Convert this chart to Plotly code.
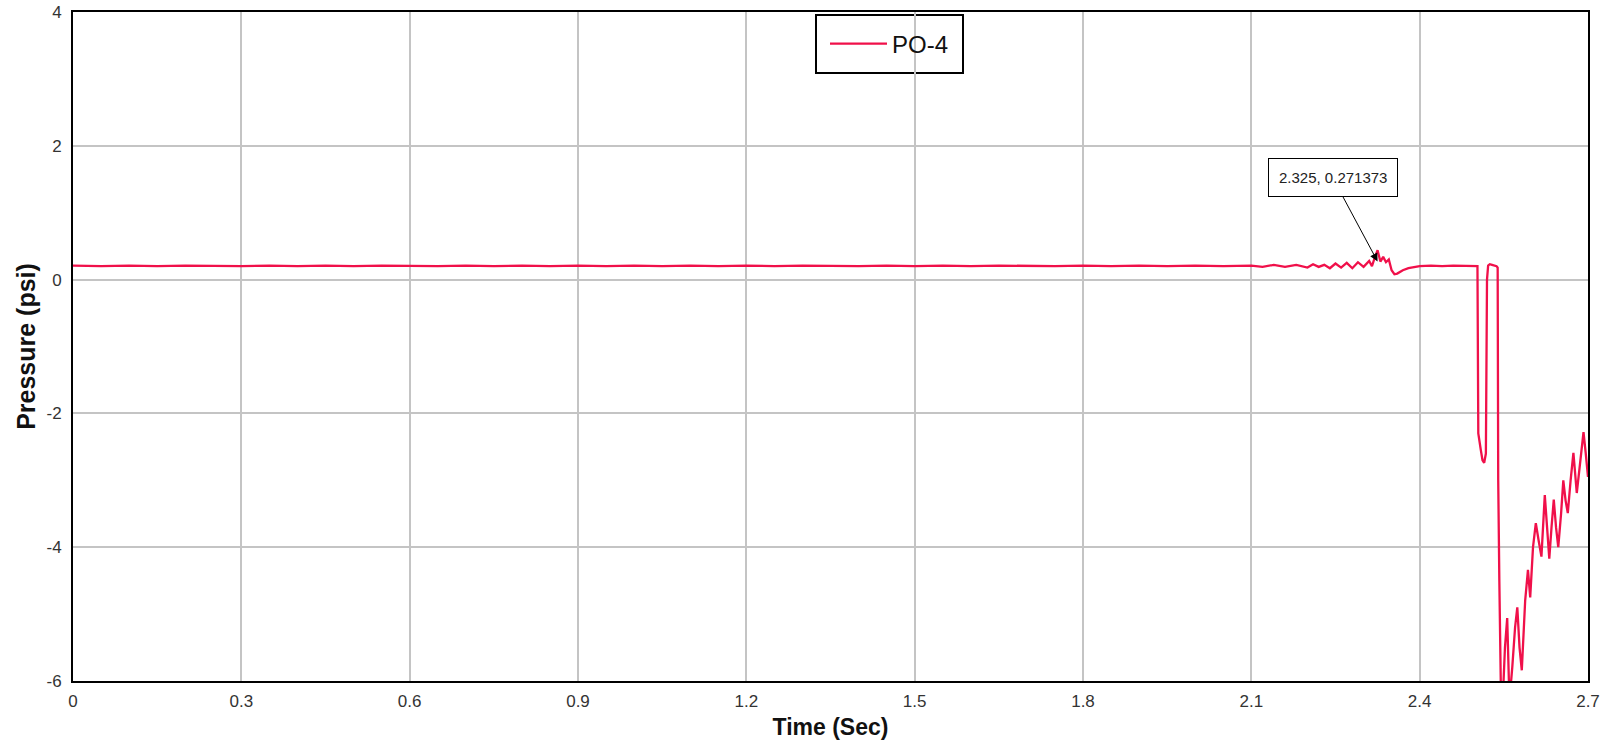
import plotly.graph_objects as go

# ---- data ----
time_base = [0.00, 0.05, 0.10, 0.15, 0.20, 0.25, 0.30, 0.35, 0.40, 0.45, 0.50,
             0.55, 0.60, 0.65, 0.70, 0.75, 0.80, 0.85, 0.90, 0.95, 1.00,
             1.05, 1.10, 1.15, 1.20, 1.25, 1.30, 1.35, 1.40, 1.45, 1.50,
             1.55, 1.60, 1.65, 1.70, 1.75, 1.80, 1.85, 1.90, 1.95, 2.00,
             2.05, 2.10]
pres_base = [0.21, 0.20, 0.21, 0.20, 0.21, 0.20, 0.20, 0.21, 0.20, 0.21, 0.20,
             0.21, 0.20, 0.20, 0.21, 0.20, 0.21, 0.20, 0.21, 0.20, 0.21,
             0.20, 0.21, 0.20, 0.21, 0.20, 0.21, 0.20, 0.20, 0.21, 0.20,
             0.21, 0.20, 0.21, 0.20, 0.20, 0.21, 0.20, 0.21, 0.20, 0.21,
             0.20, 0.21]

time_noise = [2.12, 2.14, 2.16, 2.18, 2.20, 2.21, 2.22, 2.23, 2.24, 2.25,
              2.26, 2.27, 2.28, 2.29, 2.30, 2.31, 2.315, 2.32, 2.325, 2.33,
              2.335, 2.34, 2.345, 2.35, 2.355, 2.36, 2.37, 2.38, 2.39, 2.40,
              2.42, 2.44, 2.46, 2.48, 2.50, 2.503]
pres_noise = [0.19, 0.22, 0.19, 0.22, 0.18, 0.23, 0.19, 0.22, 0.17, 0.24,
              0.18, 0.25, 0.17, 0.26, 0.19, 0.28, 0.20, 0.33, 0.44, 0.27,
              0.34, 0.26, 0.30, 0.14, 0.08, 0.09, 0.14, 0.17, 0.19, 0.20,
              0.21, 0.20, 0.21, 0.21, 0.20, 0.20]

time_drop = [2.5045, 2.506, 2.509, 2.512, 2.515, 2.518, 2.520, 2.522, 2.525,
             2.529, 2.533, 2.537, 2.539, 2.540, 2.542, 2.545, 2.548, 2.552,
             2.556, 2.560, 2.565, 2.570, 2.574, 2.578, 2.582, 2.588, 2.593,
             2.597, 2.602, 2.607, 2.612, 2.617, 2.623, 2.627, 2.631, 2.635,
             2.639, 2.643, 2.647, 2.652, 2.656, 2.660, 2.664, 2.669, 2.674,
             2.680, 2.686, 2.692, 2.696, 2.700]
pres_drop = [-2.30, -2.40, -2.55, -2.70, -2.74, -2.60, 0.00, 0.21, 0.23,
             0.22, 0.21, 0.20, 0.18, -3.00, -4.50, -6.30, -6.30, -5.50,
             -5.06, -6.30, -5.80, -5.20, -4.90, -5.50, -5.84, -4.80, -4.34,
             -4.75, -4.00, -3.64, -3.90, -4.14, -3.22, -3.70, -4.17, -3.70,
             -3.29, -3.70, -4.00, -3.50, -3.00, -3.30, -3.49, -3.00, -2.59,
             -3.19, -2.70, -2.28, -2.60, -2.95]

time = time_base + time_noise + time_drop
pressure = pres_base + pres_noise + pres_drop

x_ticks = [0, 0.3, 0.6, 0.9, 1.2, 1.5, 1.8, 2.1, 2.4, 2.7]
x_tick_labels = ["0", "0.3", "0.6", "0.9", "1.2", "1.5", "1.8", "2.1", "2.4", "2.7"]
y_ticks = [-6, -4, -2, 0, 2, 4]
y_tick_labels = ["-6", "-4", "-2", "0", "2", "4"]

marker_point = (2.325, 0.271373)

W, H = 1606, 747
# plot area in window pixels
PL, PR, PT, PB = 73, 1588, 12, 681
L, T, R, B = PL, PT, W - PR, H - PB
PW, PH = PR - PL, PB - PT


def px_x(p):
    return (p - PL) / PW


def px_y(p):
    return (PB - p) / PH


fig = go.Figure()
fig.add_trace(go.Scatter(
    x=time, y=pressure, mode="lines", name="PO-4",
    line=dict(color="#f0104a", width=2.3),
))

font_family = "Liberation Sans, Arial, sans-serif"

fig.update_layout(
    width=W, height=H,
    margin=dict(l=L, r=R, t=T, b=B, pad=0, autoexpand=False),
    paper_bgcolor="white", plot_bgcolor="white",
    font=dict(family=font_family, color="#333333", size=17),
    showlegend=True,
    legend=dict(
        x=px_x(825), y=px_y(44),
        xanchor="left", yanchor="middle",
        bgcolor="rgba(0,0,0,0)", borderwidth=0,
        itemwidth=57,
        font=dict(size=24, color="#111111", family=font_family),
    ),
    xaxis=dict(
        range=[0, 2.7], tickvals=x_ticks, ticktext=x_tick_labels,
        showgrid=True, gridcolor="#c4c4c4", gridwidth=1.5,
        zeroline=False, showline=True, linecolor="black", linewidth=2,
        mirror=True, ticks="", ticklabelstandoff=4, automargin=False,
        ticklabeloverflow="allow",
        title=dict(text="<b>Time (Sec)</b>", font=dict(size=23, color="#111111"),
                   standoff=8),
    ),
    yaxis=dict(
        range=[-6, 4], tickvals=y_ticks, ticktext=y_tick_labels,
        showgrid=True, gridcolor="#c4c4c4", gridwidth=1.5,
        zeroline=False, showline=True, linecolor="black", linewidth=2,
        mirror=True, ticks="", ticklabelstandoff=6, automargin=False,
        ticklabeloverflow="allow",
        title=dict(text="<b>Pressure (psi)</b>", font=dict(size=25, color="#111111"),
                   standoff=4),
    ),
    shapes=[dict(
        type="rect", xref="paper", yref="paper",
        x0=px_x(816), x1=px_x(963), y0=px_y(73), y1=px_y(15),
        line=dict(color="black", width=2), fillcolor="white", layer="below",
    )],
    annotations=[dict(
        x=marker_point[0], y=marker_point[1], xref="x", yref="y",
        text="2.325, 0.271373", showarrow=True,
        ax=-45, ay=-84, arrowhead=2, arrowsize=1.6, arrowwidth=1,
        arrowcolor="black", bordercolor="black", borderwidth=1,
        borderpad=10, bgcolor="white",
        font=dict(size=15, color="#222222", family=font_family),
    )],
)

fig.write_html("out.html", config={"displayModeBar": False},
               post_script="document.body.style.margin='0';")
